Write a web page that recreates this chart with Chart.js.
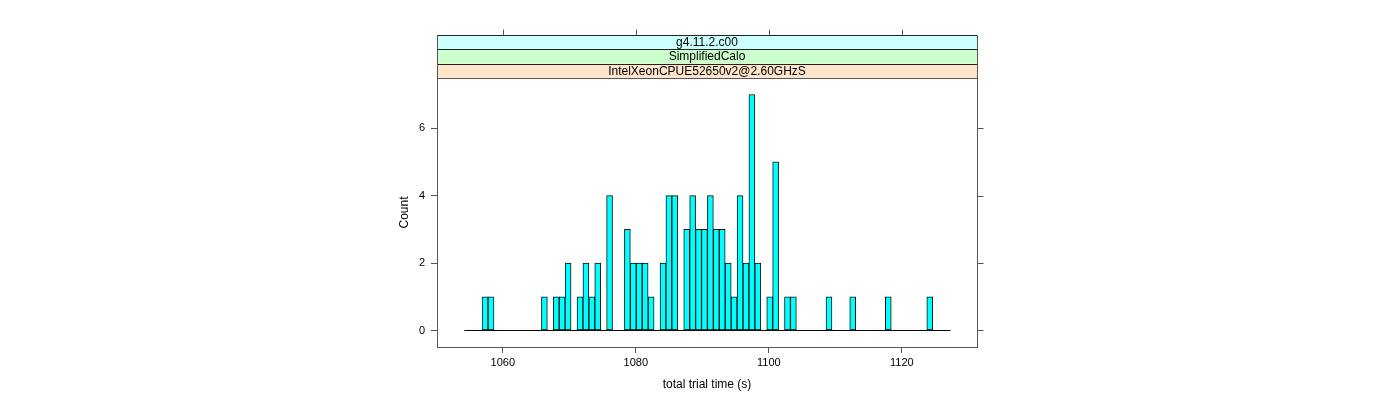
<!DOCTYPE html>
<html><head><meta charset="utf-8">
<script src="https://cdn.jsdelivr.net/npm/chart.js@4"></script>
<style>html,body{margin:0;padding:0;background:#fff;}canvas{display:block;}</style>
</head><body>
<canvas id="c" width="1400" height="400" style="width:1400px;height:400px"></canvas>
<script>
// ---- data ----
const binCenters = [1057.33, 1058.22, 1066.25, 1068.03, 1068.92, 1069.81, 1071.60, 1072.49, 1073.38, 1074.27,
  1076.05, 1078.73, 1079.62, 1080.51, 1081.40, 1082.30, 1084.08, 1084.97, 1085.86, 1087.65,
  1088.54, 1089.43, 1090.32, 1091.21, 1092.10, 1092.99, 1093.89, 1094.78, 1095.67, 1096.56,
  1097.45, 1098.34, 1100.13, 1101.02, 1102.80, 1103.69, 1109.04, 1112.61, 1117.96, 1124.20];
const counts = [1, 1, 1, 1, 1, 2, 1, 2, 1, 2,
  4, 3, 2, 2, 2, 1, 2, 4, 4, 3,
  4, 3, 3, 4, 3, 3, 2, 1, 4, 2,
  7, 2, 1, 5, 1, 1, 1, 1, 1, 1];
const binRange = [1054.21, 1127.32];
const xTicks = [1060, 1080, 1100, 1120];
const yTicks = [0, 2, 4, 6];
const stripLabels = ['g4.11.2.c00', 'SimplifiedCalo', 'IntelXeonCPUE52650v2@2.60GHzS'];
const stripColors = ['#ccffff', '#ccffcc', '#ffe5cc'];
const xLabel = 'total trial time (s)';
const yLabel = 'Count';

const FAM = "'Liberation Sans', Arial, Helvetica, sans-serif";
const FRAME = '#555';
const STRIP_H = 14.3;

const framePlugin = {
  id: 'latticeFrame',
  afterDraw(chart) {
    const ctx = chart.ctx;
    const a = chart.chartArea;
    const xs = chart.scales.x, ys = chart.scales.y;
    ctx.save();
    const n = stripLabels.length;
    for (let i = 0; i < n; i++) {
      const y0 = a.top - (i + 1) * STRIP_H;
      const idx = n - 1 - i;
      ctx.fillStyle = stripColors[idx];
      ctx.fillRect(a.left, y0, a.right - a.left, STRIP_H);
      ctx.fillStyle = '#000';
      ctx.font = '12px ' + FAM;
      ctx.textAlign = 'center';
      ctx.textBaseline = 'middle';
      ctx.fillText(stripLabels[idx], (a.left + a.right) / 2, y0 + STRIP_H / 2 + 0.5);
    }
    ctx.strokeStyle = '#222';
    ctx.lineWidth = 1;
    for (let i = 0; i <= n; i++) {
      const y = Math.round(a.top - i * STRIP_H) + 0.5;
      ctx.beginPath();
      ctx.moveTo(a.left, y); ctx.lineTo(a.right, y); ctx.stroke();
    }
    const stripTop = Math.round(a.top - n * STRIP_H) + 0.5;
    ctx.strokeStyle = FRAME;
    ctx.beginPath();
    ctx.moveTo(Math.round(a.left) + 0.5, stripTop); ctx.lineTo(Math.round(a.left) + 0.5, a.top);
    ctx.moveTo(Math.round(a.right) + 0.5, stripTop); ctx.lineTo(Math.round(a.right) + 0.5, a.top);
    ctx.stroke();
    ctx.strokeRect(Math.round(a.left) + 0.5, Math.round(a.top) + 0.5, Math.round(a.right - a.left), Math.round(a.bottom - a.top));
    ctx.beginPath();
    xTicks.forEach(v => {
      const px = Math.round(xs.getPixelForValue(v)) + 0.5;
      ctx.moveTo(px, stripTop); ctx.lineTo(px, stripTop - 6);
    });
    yTicks.forEach(v => {
      const py = Math.round(ys.getPixelForValue(v)) + 0.5;
      ctx.moveTo(Math.round(a.right) + 0.5, py); ctx.lineTo(Math.round(a.right) + 6.5, py);
    });
    ctx.stroke();
    ctx.restore();
  }
};

new Chart(document.getElementById('c').getContext('2d'), {
  type: 'bar',
  data: {
    datasets: [
      {
        type: 'bar',
        data: binCenters.map((x, i) => ({ x: x, y: counts[i] })),
        backgroundColor: '#00ffff',
        borderColor: '#111',
        borderWidth: 1,
        borderSkipped: false,
        barPercentage: 1,
        categoryPercentage: 1,
        grouped: false,
        order: 1
      },
      {
        type: 'line',
        data: binRange.map(x => ({ x: x, y: 0 })),
        borderColor: '#000',
        borderWidth: 1,
        pointRadius: 0,
        fill: false,
        order: 0
      }
    ]
  },
  options: {
    responsive: false,
    animation: false,
    events: [],
    layout: { padding: { left: 397, right: 423, top: 78, bottom: 0 } },
    plugins: { legend: { display: false }, tooltip: { enabled: false }, title: { display: false } },
    scales: {
      x: {
        type: 'linear',
        min: 1050.1, max: 1131.3,
        offset: false,
        afterBuildTicks: s => { s.ticks = xTicks.map(v => ({ value: v })); },
        afterFit: s => { s.height = 53; },
        grid: { drawOnChartArea: false, drawTicks: true, tickLength: 6, color: FRAME, offset: false },
        border: { display: false },
        ticks: { font: { family: FAM, size: 11 }, color: '#000', padding: 3, maxRotation: 0, autoSkip: false, callback: v => String(v) },
        title: { display: true, text: xLabel, font: { family: FAM, size: 12 }, color: '#000', padding: { top: 0, bottom: 8 } }
      },
      y: {
        type: 'linear',
        min: -0.49, max: 7.49,
        afterBuildTicks: s => { s.ticks = yTicks.map(v => ({ value: v })); },
        afterFit: s => { s.width = 40; },
        grid: { drawOnChartArea: false, drawTicks: true, tickLength: 6, color: FRAME },
        border: { display: false },
        ticks: { font: { family: FAM, size: 11 }, color: '#000', padding: 6, callback: v => String(v) },
        title: { display: true, text: yLabel, font: { family: FAM, size: 12 }, color: '#000', padding: { top: 0, bottom: 0 } }
      }
    }
  },
  plugins: [framePlugin]
});
</script>
</body></html>
